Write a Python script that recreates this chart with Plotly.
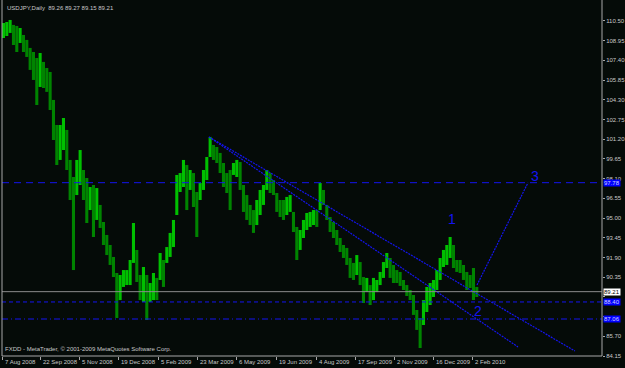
import plotly.graph_objects as go

TITLE = "USDJPY,Daily  89.26 89.27 89.15 89.21"
COPYRIGHT = "FXDD - MetaTrader, © 2001-2009 MetaQuotes Software Corp."

# high / low of consecutive bar groups (oldest first)
HIGHS = [110.34, 110.42, 110.58, 110.19, 110.11, 109.95, 109.40, 109.01, 108.38, 108.06,
         107.59, 107.98, 107.28, 106.80, 106.49, 104.29, 102.32, 102.32, 102.87, 101.93,
         99.57, 98.23, 99.57, 100.35, 98.78, 98.15, 97.44, 97.60, 97.36, 96.03,
         94.69, 93.67, 92.88, 91.94, 90.68, 90.52, 90.91, 90.91, 91.70, 94.61,
         92.49, 90.52, 91.15, 90.52, 89.89, 90.68, 90.29, 92.25, 91.70, 92.72,
         93.83, 94.85, 98.39, 98.54, 99.57, 99.17, 98.78, 98.54, 97.05, 97.76,
         98.78, 99.80, 101.38, 100.75, 100.59, 100.12, 99.33, 98.54, 98.78, 99.33,
         99.57, 99.41, 97.60, 96.81, 96.03, 95.63, 96.42, 97.21, 97.60, 98.78,
         98.54, 97.99, 96.97, 96.42, 96.42, 96.66, 96.81, 95.48, 94.30, 94.06,
         94.85, 95.40, 95.48, 95.63, 95.63, 97.76, 97.21, 96.03, 95.08, 94.69,
         94.06, 93.43, 92.88, 92.65, 91.86, 91.47, 92.09, 91.54, 90.36, 90.29,
         89.73, 90.29, 90.13, 90.76, 91.54, 92.25, 91.86, 91.31, 90.91, 90.76,
         90.13, 89.73, 89.34, 88.95, 87.77, 87.14, 88.55, 89.58, 89.89, 90.13,
         90.91, 91.86, 92.49, 92.88, 93.51, 92.88, 91.70, 91.70, 91.31, 90.76,
         90.52, 91.07, 89.58]
LOWS = [109.16, 109.32, 109.56, 108.61, 108.06, 108.77, 108.06, 107.67, 106.65, 105.86,
        103.89, 105.31, 105.23, 104.92, 103.50, 101.14, 99.17, 99.57, 100.35, 98.78,
        96.42, 90.91, 96.81, 97.60, 96.42, 94.61, 95.63, 93.51, 94.85, 94.22,
        92.88, 92.09, 91.31, 90.36, 87.14, 88.55, 89.58, 89.73, 89.73, 91.47,
        89.97, 88.55, 88.40, 86.98, 88.40, 88.55, 88.55, 90.13, 89.58, 91.47,
        91.94, 92.72, 95.24, 97.05, 97.44, 95.63, 97.21, 95.87, 93.51, 96.42,
        97.21, 97.99, 99.80, 99.57, 99.33, 98.54, 97.44, 96.97, 95.63, 98.39,
        98.23, 97.21, 95.48, 94.85, 94.45, 93.83, 94.45, 95.24, 96.03, 97.21,
        96.97, 96.81, 95.48, 95.08, 94.85, 95.24, 95.48, 93.90, 91.70, 92.49,
        93.43, 94.06, 94.30, 94.45, 94.30, 95.63, 96.03, 94.85, 93.90, 93.43,
        92.88, 92.33, 91.86, 91.31, 90.29, 90.13, 90.52, 89.73, 88.32, 89.18,
        88.16, 88.55, 89.18, 89.73, 90.29, 91.07, 90.29, 89.89, 89.89, 89.66,
        89.34, 88.87, 88.55, 87.38, 86.20, 84.78, 86.59, 87.61, 88.16, 88.79,
        89.34, 90.13, 91.15, 91.31, 91.86, 91.07, 90.76, 90.68, 90.13, 89.34,
        89.50, 88.55, 88.79]
BARS_PER_GROUP = 10 / 3

DATE_LABELS = ["7 Aug 2008", "22 Sep 2008", "5 Nov 2008", "19 Dec 2008", "5 Feb 2009",
               "23 Mar 2009", "6 May 2009", "19 Jun 2009", "4 Aug 2009", "17 Sep 2009",
               "2 Nov 2009", "16 Dec 2009", "2 Feb 2010"]
DATE_BARS = [0, 38, 77, 116, 156, 195, 234, 274, 314, 353, 392, 431, 470]

PRICE_TICKS = [84.15, 85.70, 87.25, 88.80, 90.35, 91.90, 93.45, 95.00, 96.55, 98.10,
               99.65, 101.20, 102.75, 104.30, 105.85, 107.40, 108.95, 110.50]
HIDDEN_TICKS = [87.25, 88.80]   # covered by the level labels in the original

LEVEL_DASH = 97.78
LEVEL_DOT = 88.40
LEVEL_DASHDOT = 87.06
BID = 89.21

TREND_UPPER_X, TREND_UPPER_Y = [207, 573], [101.38, 84.54]
TREND_LOWER_X, TREND_LOWER_Y = [207, 516], [101.38, 84.86]
WAVE_X, WAVE_Y = [475, 526], [89.73, 97.78]
WAVE_LABELS = ["1", "2", "3"]
WAVE_LABEL_X = [450, 476, 533]
WAVE_LABEL_Y = [94.93, 87.69, 98.31]

BG = "#050b08"
GRID = "#a8a8a8"
TXT = "#c8c8c8"
BLUE = "#1414f0"
FONT = "Liberation Sans"
FS = 6

X_MAX = 600
Y_MIN, Y_MAX = 84.15, 112.15

xs = [(BARS_PER_GROUP / 2 - 0.2) + i * BARS_PER_GROUP for i in range(len(HIGHS))]
mids = [(h + l) / 2 for h, l in zip(HIGHS, LOWS)]
colors = []
for i, m in enumerate(mids):
    up = i == 0 or m >= mids[i - 1]
    colors.append("#00c000" if up else "#008400")

fig = go.Figure()
fig.add_trace(go.Bar(x=xs, y=[h - l for h, l in zip(HIGHS, LOWS)], base=LOWS,
                     width=BARS_PER_GROUP * 0.92, marker=dict(color=colors, line=dict(width=0)),
                     hoverinfo="skip", showlegend=False))

# horizontal levels
for lvl, dash, col in [(LEVEL_DASH, "7px,5px", BLUE), (LEVEL_DOT, "4px,3px", BLUE),
                       (LEVEL_DASHDOT, "6px,3px,1px,3px", BLUE), (BID, "solid", "#8c8c8c")]:
    fig.add_shape(type="line", xref="paper", x0=0, x1=1, yref="y", y0=lvl, y1=lvl,
                  line=dict(color=col, width=1, dash=dash), layer="above")

for tx, ty in [(TREND_UPPER_X, TREND_UPPER_Y), (TREND_LOWER_X, TREND_LOWER_Y), (WAVE_X, WAVE_Y)]:
    fig.add_trace(go.Scatter(x=tx, y=ty, mode="lines",
                             line=dict(color=BLUE, width=1.2, dash="2px,1px"),
                             hoverinfo="skip", showlegend=False))

for t, x, y in zip(WAVE_LABELS, WAVE_LABEL_X, WAVE_LABEL_Y):
    fig.add_annotation(x=x, y=y, text=t, showarrow=False,
                       font=dict(family=FONT, size=14, color=BLUE))

# borders
fig.add_shape(type="line", xref="paper", yref="paper", x0=0, x1=0, y0=0, y1=1,
              line=dict(color=GRID, width=1))
fig.add_shape(type="line", xref="paper", yref="paper", x0=1, x1=1, y0=0, y1=1,
              line=dict(color=GRID, width=1))
fig.add_shape(type="line", xref="paper", yref="paper", x0=0, x1=1, y0=0, y1=0,
              line=dict(color=GRID, width=1))

# date labels
for lab, b in zip(DATE_LABELS, DATE_BARS):
    fig.add_annotation(x=b, xref="x", y=0, yref="paper", text=lab, showarrow=False,
                       xanchor="left", yanchor="top", xshift=1, yshift=-1,
                       font=dict(family=FONT, size=FS, color=TXT))

# highlighted price labels
for val, bg, fc in [(LEVEL_DASH, "#0000ff", "#d0d0ff"), (BID, "#ffffff", "#000000"),
                    (LEVEL_DOT, "#0000ff", "#d0d0ff"), (LEVEL_DASHDOT, "#0000ff", "#d0d0ff")]:
    fig.add_annotation(x=1, xref="paper", y=val, yref="y", text=f"{val:.2f}", showarrow=False,
                       xanchor="left", xshift=1, bgcolor=bg, borderpad=0,
                       font=dict(family=FONT, size=FS, color=fc))

fig.add_annotation(x=0, xref="paper", y=1, yref="paper", text=TITLE, showarrow=False,
                   xanchor="left", yanchor="top", xshift=3, yshift=-3,
                   font=dict(family=FONT, size=FS, color=TXT))
fig.add_annotation(x=0, xref="paper", y=0, yref="paper", text=COPYRIGHT, showarrow=False,
                   xanchor="left", yanchor="bottom", xshift=1, yshift=2,
                   font=dict(family=FONT, size=FS, color=TXT))

fig.update_layout(
    width=625, height=368, margin=dict(l=2, r=23, t=0, b=12),
    paper_bgcolor=BG, plot_bgcolor=BG, showlegend=False,
    xaxis=dict(range=[0, X_MAX], showgrid=False, zeroline=False, showline=False,
               tickvals=DATE_BARS, ticktext=[""] * len(DATE_BARS),
               ticks="outside", ticklen=3, tickcolor=GRID, fixedrange=True),
    yaxis=dict(range=[Y_MIN, Y_MAX], side="right", showgrid=False, zeroline=False,
               showline=False, tickvals=PRICE_TICKS,
               ticktext=["" if v in HIDDEN_TICKS else f"{v:.2f}" for v in PRICE_TICKS],
               ticks="outside", ticklen=2, tickcolor=GRID,
               tickfont=dict(family=FONT, size=FS, color=TXT), fixedrange=True),
)

fig.write_html("out.html")
